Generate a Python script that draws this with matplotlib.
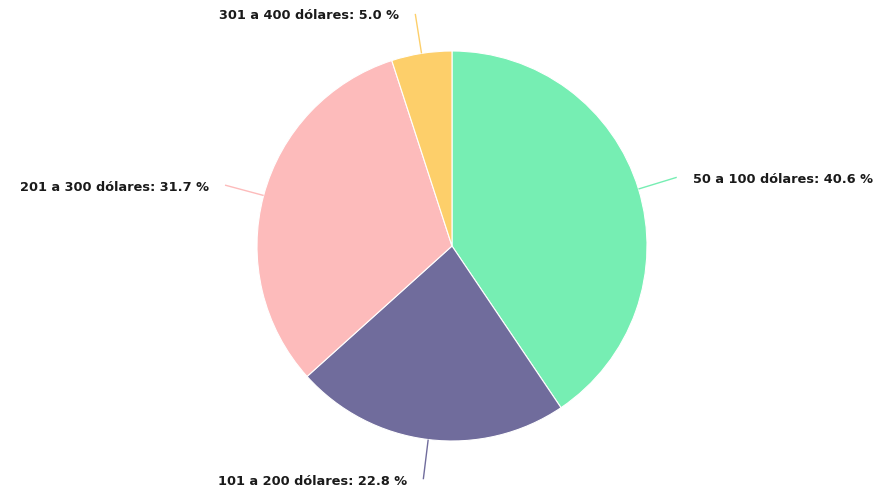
import numpy as np
import matplotlib.pyplot as plt
from matplotlib.path import Path
from matplotlib.patches import PathPatch

labels = ['50 a 100 dólares', '101 a 200 dólares', '201 a 300 dólares', '301 a 400 dólares']
values = [40.6, 22.8, 31.7, 5.0]
colors = ['#76EEB3', '#706C9C', '#FDBBBB', '#FDCF6A']

W, H = 885, 493
cx, cy, r = 452, H - 246, 195

fig = plt.figure(figsize=(W / 100, H / 100), dpi=100)
ax = fig.add_axes([0, 0, 1, 1])

wedges, _ = ax.pie(values, colors=colors, startangle=90, counterclock=False,
                   center=(cx, cy), radius=r,
                   wedgeprops=dict(edgecolor='white', linewidth=0.8))
# pie resets the limits, so set them afterwards
ax.set_xlim(0, W)
ax.set_ylim(0, H)
ax.set_aspect('equal')
ax.axis('off')

for w, lab, val, col in zip(wedges, labels, values, colors):
    ang = np.deg2rad((w.theta1 + w.theta2) / 2)
    c, s = np.cos(ang), np.sin(ang)
    p0 = (cx + r * c, cy + r * s)
    p1 = (cx + (r + 22) * c, cy + (r + 22) * s)
    p2 = (cx + (r + 40) * c, cy + (r + 40) * s)
    path = Path([p0, p1, p2], [Path.MOVETO, Path.CURVE3, Path.CURVE3])
    ax.add_patch(PathPatch(path, facecolor='none', edgecolor=col, lw=1))
    ha = 'left' if c >= 0 else 'right'
    dx = 16 if c >= 0 else -16
    ax.text(p2[0] + dx, p2[1] - 2, f'{lab}: {val:.1f} %', ha=ha, va='center',
            fontsize=9.3, fontweight='bold', color='#1a1a1a')

fig.savefig('out.png', dpi=100)
